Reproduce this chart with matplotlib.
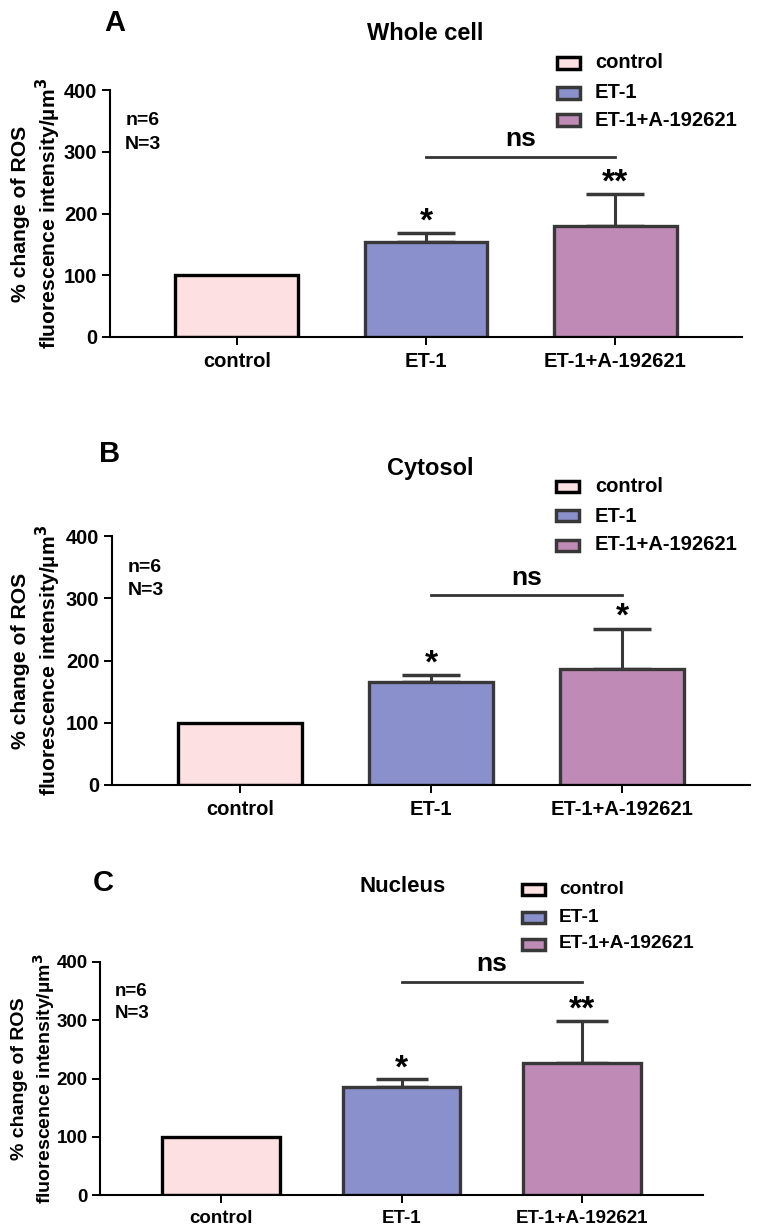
import numpy as np
import matplotlib
matplotlib.use("Agg")
import matplotlib.pyplot as plt
from matplotlib.patches import Rectangle

# data
groups = ["control", "ET-1", "ET-1+A-192621"]
titles = ["Whole cell", "Cytosol", "Nucleus"]
letters = ["A", "B", "C"]
means_whole = [100, 154, 179]
sem_whole = [0, 14, 53]
means_cyto = [100, 165, 187]
sem_cyto = [0, 12, 64]
means_nuc = [100, 185, 226]
sem_nuc = [0, 14, 73]
stars_whole = ["", "*", "**"]
stars_cyto = ["", "*", "*"]
stars_nuc = ["", "*", "**"]
yticks = [0, 100, 200, 300, 400]

faceColors = ["#fde0e1", "#8a90cc", "#c08ab6"]
edgeColors = ["#000000", "#383838", "#383838"]

W, H = 766, 1231
plt.rcParams["font.family"] = ["Liberation Sans", "DejaVu Sans"]
plt.rcParams["font.weight"] = "bold"

fig = plt.figure(figsize=(W / 100, H / 100), dpi=100)


def fx(px):
	return px / W


def fy(py):
	return 1 - py / H


def drawPanel(box, means, sems, stars, title, letter, layout):
	left, right, top, bottom = box
	ax = fig.add_axes([fx(left), fy(bottom), fx(right - left), (bottom - top) / H])
	x = np.arange(len(groups))
	ax.bar(x, means, width=0.65, color=faceColors, edgecolor=edgeColors, linewidth=2.4, zorder=2)
	for i in range(len(groups)):
		if sems[i] > 0:
			ax.errorbar(x[i], means[i], yerr=[[0], [sems[i]]], color=edgeColors[i], elinewidth=2.2,
				capsize=layout["cap"], capthick=2.5, zorder=1)
		if stars[i]:
			ax.text(x[i], means[i] + sems[i] + layout["starGap"], stars[i], ha="center", va="center",
				fontsize=layout["starSize"], fontweight="bold")

	ax.set_xlim(-0.67, 2.67)
	ax.set_ylim(0, 400)
	ax.set_yticks(yticks)
	ax.set_xticks(x)
	ax.set_xticklabels(groups)
	for s in ["top", "right"]:
		ax.spines[s].set_visible(False)
	for s in ["left", "bottom"]:
		ax.spines[s].set_linewidth(1.5)
	ax.tick_params(width=1.4, length=6, labelsize=layout["tickSize"], pad=3)
	ax.tick_params(axis="x", pad=5)

	ax.set_ylabel("% change of ROS\nfluorescence intensity/\u00b5m$^3$", fontsize=layout["labelSize"],
		fontweight="bold", va="center", linespacing=1.2)
	ax.yaxis.set_label_coords((layout["labelX"] - left) / (right - left), 0.5)

	# ns bracket between ET-1 and ET-1+A-192621
	ax.plot([1, 2], [layout["nsLine"], layout["nsLine"]], color="#333333", linewidth=2, clip_on=False)
	ax.text(1.5, layout["nsText"], "ns", ha="center", va="center", fontsize=19, fontweight="bold")

	ax.text(-0.59, 350, "n=6", ha="left", va="center", fontsize=layout["nSize"])
	ax.text(-0.59, 312, "N=3", ha="left", va="center", fontsize=layout["nSize"])

	fig.text(fx(layout["titleX"]), fy(layout["titleY"]), title, ha="center", va="center", fontsize=layout["titleSize"])
	fig.text(fx(layout["letterX"]), fy(layout["letterY"]), letter, ha="center", va="center", fontsize=21)

	# legend drawn by hand above the axes
	patchX, textX = layout["legendX"]
	for i, (name, rowY) in enumerate(zip(groups, layout["legendY"])):
		r = Rectangle((fx(patchX), fy(rowY + 5.5)), fx(23), 11 / H, facecolor=faceColors[i],
			edgecolor=edgeColors[i], linewidth=2.5, transform=fig.transFigure)
		fig.patches.append(r)
		fig.text(fx(textX), fy(rowY), name, ha="left", va="center", fontsize=layout["legendSize"])
	return ax


layoutA = dict(cap=21, starGap=18, starSize=24, tickSize=14.5, labelSize=15.2, labelX=37, nsLine=292, nsText=320,
	nSize=14, titleX=425, titleY=33, titleSize=17, letterX=115, letterY=23,
	legendX=(557, 595), legendY=(63, 93, 120), legendSize=14.5)
layoutB = dict(cap=21, starGap=18, starSize=24, tickSize=14.5, labelSize=15.2, labelX=37, nsLine=306, nsText=332,
	nSize=14, titleX=430, titleY=469, titleSize=17, letterX=110, letterY=454,
	legendX=(556, 595), legendY=(486, 516, 545), legendSize=14.5)
layoutC = dict(cap=19, starGap=18, starSize=24, tickSize=13.5, labelSize=14, labelX=34, nsLine=366, nsText=397,
	nSize=13.5, titleX=403, titleY=886, titleSize=16, letterX=103, letterY=883,
	legendX=(522, 559), legendY=(889, 917, 944), legendSize=13.8)

drawPanel((110, 742, 90, 337), means_whole, sem_whole, stars_whole, titles[0], letters[0], layoutA)
drawPanel((112, 750, 536, 785), means_cyto, sem_cyto, stars_cyto, titles[1], letters[1], layoutB)
drawPanel((100, 703, 962, 1195), means_nuc, sem_nuc, stars_nuc, titles[2], letters[2], layoutC)

fig.savefig("out.png", dpi=100)
